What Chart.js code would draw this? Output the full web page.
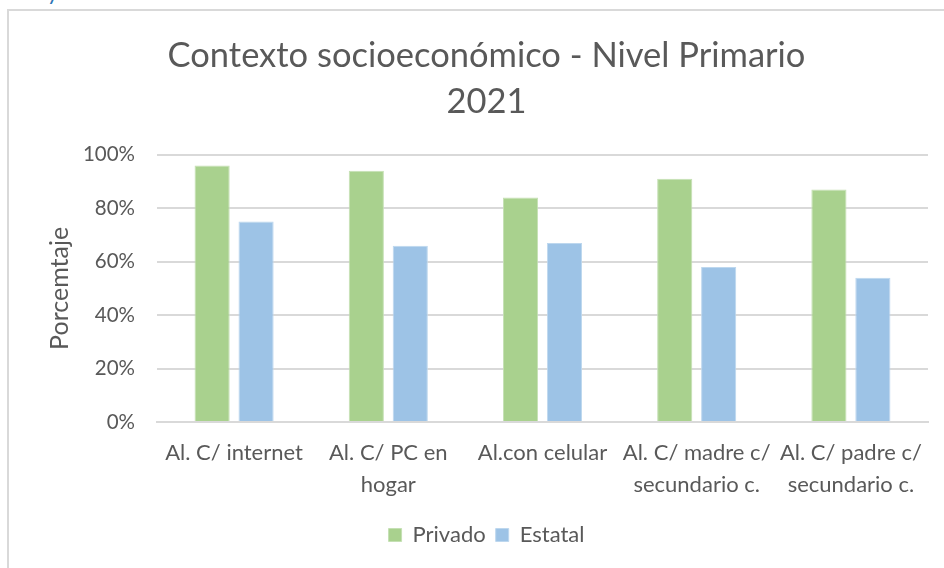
<!DOCTYPE html>
<html>
<head>
<meta charset="utf-8">
<script src="https://cdn.jsdelivr.net/npm/chart.js@4"></script>
<style>
  html, body { margin: 0; padding: 0; background: #fff; overflow: hidden; }
  #frame { position: absolute; left: 7px; top: 9px; width: 1000px; height: 600px; border: 2px solid #d9d9d9; }
  #cut { position: absolute; left: 47px; top: -22px; font: 22px Lato, sans-serif; color: #2e74b5; }
  #wrap { position: absolute; left: 0; top: 0; width: 944px; height: 568px; }
</style>
</head>
<body>
<div id="cut">y</div>
<div id="frame"></div>
<div id="wrap"><canvas id="chart"></canvas></div>
<script>
// ============================================================
// Contexto socioeconómico - Nivel Primario 2021
// ============================================================

const categories = [
  "Al. C/ internet",
  ["Al. C/ PC en", "hogar"],
  "Al.con celular",
  ["Al. C/ madre c/", "secundario c."],
  ["Al. C/ padre c/", "secundario c."]
];
const privado = [96, 94, 84, 91, 87];
const estatal = [75, 66, 67, 58, 54];
const yTicks = [0, 20, 40, 60, 80, 100];

const txt = "#595959";
const grid = "#d9d9d9";
const font = "Lato, 'Open Sans', sans-serif";

const ctx = document.getElementById("chart").getContext("2d");
new Chart(ctx, {
  type: "bar",
  data: {
    labels: categories,
    datasets: [
      { label: "Privado", data: privado, backgroundColor: "#a9d18e", borderColor: "#c5e0b4", borderWidth: 1 },
      { label: "Estatal", data: estatal, backgroundColor: "#9dc3e6", borderColor: "#bdd7ee", borderWidth: 1 }
    ]
  },
  options: {
    responsive: true,
    maintainAspectRatio: false,
    animation: false,
    datasets: { bar: { categoryPercentage: 0.57, barPercentage: 0.8 } },
    layout: { padding: { left: 45, right: 16, top: 33, bottom: 12 } },
    plugins: {
      title: {
        display: true,
        text: ["Contexto socioeconómico - Nivel Primario", "2021"],
        color: txt,
        font: { family: font, size: 34.5, weight: "normal", lineHeight: 1.33 },
        padding: { top: 0, bottom: 30 }
      },
      legend: {
        position: "bottom",
        labels: {
          color: txt,
          font: { family: font, size: 22 },
          boxWidth: 13, boxHeight: 13, padding: 10
        }
      },
      tooltip: { enabled: false }
    },
    scales: {
      y: {
        min: 0, max: 100,
        afterBuildTicks: s => { s.ticks = yTicks.map(v => ({ value: v })); },
        afterFit: s => { s.width = 112; },
        ticks: { color: txt, font: { family: font, size: 20.5 }, padding: 22, callback: v => v + "%" },
        grid: { color: grid, lineWidth: 2, drawTicks: false },
        border: { display: false },
        title: { display: true, text: "Porcemtaje", color: txt, font: { family: font, size: 25 }, padding: 0 }
      },
      x: {
        afterFit: s => { s.height = 92; },
        ticks: { color: txt, font: { family: font, size: 22, lineHeight: 1.45 }, padding: 15, maxRotation: 0, autoSkip: false },
        grid: { display: false, drawTicks: false },
        border: { color: grid, width: 2 }
      }
    }
  }
});
</script>
</body>
</html>
